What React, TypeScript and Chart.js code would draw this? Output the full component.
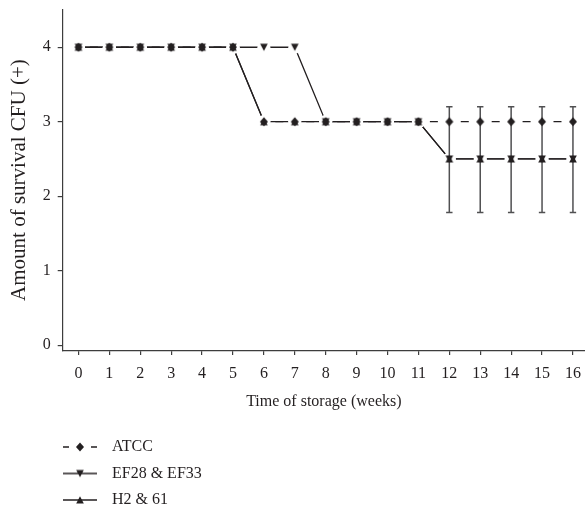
import React, { useEffect, useRef } from 'react';
import { Chart, registerables } from 'chart.js';

Chart.register(...registerables);

// ---------------- data ----------------
const weeks = [0, 1, 2, 3, 4, 5, 6, 7, 8, 9, 10, 11, 12, 13, 14, 15, 16];
const atccValues = [4, 4, 4, 4, 4, 4, 3, 3, 3, 3, 3, 3, 3, 3, 3, 3, 3];
const efValues = [4, 4, 4, 4, 4, 4, 4, 4, 3, 3, 3, 3, 2.5, 2.5, 2.5, 2.5, 2.5];
const h2Values = [4, 4, 4, 4, 4, 4, 3, 3, 3, 3, 3, 3, 2.5, 2.5, 2.5, 2.5, 2.5];
const errorWeeks = [12, 13, 14, 15, 16];
const errorHigh = [3.2, 3.2, 3.2, 3.2, 3.2];
const errorLow = [1.78, 1.78, 1.78, 1.78, 1.78];
const seriesNames = ['ATCC', 'EF28 & EF33', 'H2 & 61'];
const xTickValues = [0, 1, 2, 3, 4, 5, 6, 7, 8, 9, 10, 11, 12, 13, 14, 15, 16];
const yTickValues = [0, 1, 2, 3, 4];
const xTitle = 'Time of storage (weeks)';
const yTitle = 'Amount of survival CFU (+)';

// ---------------- style ----------------
const INK = '#231f20';
const AXIS = '#3d3d3d';
const ERR = '#505052';
const FONT = "'Liberation Serif', 'DejaVu Serif', serif";
const LEGEND_LEFT = 52.5;
const LEGEND_TOP = 428.5;

type Painter = (g: CanvasRenderingContext2D) => void;

function makeCanvas(w: number, h: number, paint: Painter): HTMLCanvasElement {
  const c = document.createElement('canvas');
  c.width = w;
  c.height = h;
  const g = c.getContext('2d')!;
  g.fillStyle = INK;
  g.strokeStyle = INK;
  paint(g);
  return c;
}

function diamond(g: CanvasRenderingContext2D, cx: number, cy: number) {
  g.beginPath();
  g.moveTo(cx, cy - 4.5);
  g.lineTo(cx + 4, cy);
  g.lineTo(cx, cy + 4.5);
  g.lineTo(cx - 4, cy);
  g.closePath();
  g.fill();
}
function triDown(g: CanvasRenderingContext2D, cx: number, cy: number) {
  g.beginPath();
  g.moveTo(cx - 3.8, cy - 3.6);
  g.lineTo(cx + 3.8, cy - 3.6);
  g.lineTo(cx, cy + 3.8);
  g.closePath();
  g.fill();
}
function triUp(g: CanvasRenderingContext2D, cx: number, cy: number) {
  g.beginPath();
  g.moveTo(cx, cy - 3.8);
  g.lineTo(cx + 3.8, cy + 3.6);
  g.lineTo(cx - 3.8, cy + 3.6);
  g.closePath();
  g.fill();
}

const errorBarPlugin = {
  id: 'errorBars',
  afterDatasetDraw(chart: any, args: any) {
    if (args.index !== 3) return;
    const { ctx } = chart;
    const x = chart.scales.x;
    const y = chart.scales.y;
    ctx.save();
    ctx.strokeStyle = ERR;
    ctx.lineWidth = 1.5;
    errorWeeks.forEach((w, i) => {
      const px = x.getPixelForValue(w);
      const top = y.getPixelForValue(errorHigh[i]);
      const bot = y.getPixelForValue(errorLow[i]);
      ctx.beginPath();
      ctx.moveTo(px, top);
      ctx.lineTo(px, bot);
      ctx.moveTo(px - 3.2, top);
      ctx.lineTo(px + 3.2, top);
      ctx.moveTo(px - 3.2, bot);
      ctx.lineTo(px + 3.2, bot);
      ctx.stroke();
    });
    ctx.restore();
  },
};

const legendPlacer = {
  id: 'legendPlacer',
  beforeDraw(chart: any) {
    const lg = chart.legend;
    if (!lg) return;
    lg.left = LEGEND_LEFT;
    lg.right = LEGEND_LEFT + 200;
    lg.width = 200;
    lg.top = LEGEND_TOP;
    lg.bottom = chart.height;
    lg.height = chart.height - LEGEND_TOP;
  },
};

export default function App() {
  const ref = useRef<HTMLCanvasElement | null>(null);

  useEffect(() => {
    document.body.style.margin = '0';
    const canvas = ref.current;
    if (!canvas) return;

    const markerAtcc = makeCanvas(12, 12, (g) => diamond(g, 6, 6));
    const markerEf = makeCanvas(12, 12, (g) => triDown(g, 6, 6));
    const markerH2 = makeCanvas(12, 12, (g) => triUp(g, 6, 6));

    const legendAtcc = makeCanvas(41, 12, (g) => {
      g.lineWidth = 1.3;
      g.beginPath();
      g.moveTo(0, 6);
      g.lineTo(6, 6);
      g.moveTo(28, 6);
      g.lineTo(34, 6);
      g.stroke();
      diamond(g, 17, 6);
    });
    const legendEf = makeCanvas(41, 12, (g) => {
      g.lineWidth = 1.3;
      g.beginPath();
      g.moveTo(0, 6);
      g.lineTo(34, 6);
      g.stroke();
      triDown(g, 17, 6);
    });
    const legendH2 = makeCanvas(41, 12, (g) => {
      g.lineWidth = 1.3;
      g.beginPath();
      g.moveTo(0, 6);
      g.lineTo(34, 6);
      g.stroke();
      triUp(g, 17, 6);
    });
    const legendImages = [legendAtcc, legendEf, legendH2];

    const pts = (vals: number[]) => weeks.map((w, i) => ({ x: w, y: vals[i] }));
    const allPoints = [...pts(atccValues), ...pts(efValues), ...pts(h2Values)];

    const flat = (c: any) => Math.abs(c.p0.y - c.p1.y) < 0.5;
    const dashLen = 8;

    const lineBase = {
      borderColor: INK,
      borderWidth: 1.3,
      pointRadius: 0,
      pointHoverRadius: 0,
      tension: 0,
      fill: false,
      order: 3,
    };

    const chart = new Chart(canvas, {
      type: 'line',
      data: {
        datasets: [
          {
            ...lineBase,
            label: seriesNames[0],
            data: pts(atccValues),
            segment: {
              borderDash: (c: any) =>
                flat(c) ? [dashLen, c.p1.x - c.p0.x - dashLen] : [],
              borderDashOffset: (c: any) =>
                flat(c) ? (c.p1.x - c.p0.x + dashLen) / 2 : 0,
            },
          } as any,
          { ...lineBase, label: seriesNames[1], data: pts(efValues) },
          { ...lineBase, label: seriesNames[2], data: pts(h2Values) },
          {
            label: 'mask',
            data: allPoints,
            showLine: false,
            pointRadius: 6.5,
            pointHoverRadius: 6.5,
            pointBackgroundColor: '#ffffff',
            pointBorderWidth: 0,
            order: 2,
          },
          {
            label: seriesNames[0] + ' markers',
            data: pts(atccValues),
            showLine: false,
            pointStyle: markerAtcc,
            pointRadius: 5,
            pointHoverRadius: 5,
            order: 1,
          } as any,
          {
            label: seriesNames[1] + ' markers',
            data: pts(efValues),
            showLine: false,
            pointStyle: markerEf,
            pointRadius: 5,
            pointHoverRadius: 5,
            order: 1,
          } as any,
          {
            label: seriesNames[2] + ' markers',
            data: pts(h2Values),
            showLine: false,
            pointStyle: markerH2,
            pointRadius: 5,
            pointHoverRadius: 5,
            order: 1,
          } as any,
        ],
      },
      options: {
        responsive: false,
        animation: false,
        events: [],
        layout: {
          autoPadding: false,
          padding: { top: 10, left: 0, right: 0, bottom: 62 },
        },
        scales: {
          x: {
            type: 'linear',
            min: -0.51,
            max: 16.39,
            afterBuildTicks: (s: any) => {
              s.ticks = xTickValues.map((v) => ({ value: v }));
            },
            afterFit: (s: any) => {
              s.paddingLeft = 0;
              s.paddingRight = 0;
            },
            ticks: {
              font: { family: FONT, size: 16 },
              color: INK,
              padding: 9,
              maxRotation: 0,
              autoSkip: false,
              callback: (v: any) => String(v),
            },
            grid: {
              drawOnChartArea: false,
              drawTicks: true,
              tickLength: 5,
              color: AXIS,
              lineWidth: 1.2,
            },
            border: { display: true, color: AXIS, width: 1.2 },
            title: {
              display: true,
              text: xTitle,
              font: { family: FONT, size: 16 },
              color: INK,
              padding: { top: 0, bottom: 4 },
            },
          },
          y: {
            type: 'linear',
            min: -0.067,
            max: 4.5,
            afterBuildTicks: (s: any) => {
              s.ticks = yTickValues.map((v) => ({ value: v }));
            },
            afterFit: (s: any) => {
              s.paddingTop = 0;
              s.paddingBottom = 0;
            },
            ticks: {
              font: { family: FONT, size: 16 },
              color: INK,
              padding: 7,
              callback: (v: any) => String(v),
            },
            grid: {
              drawOnChartArea: false,
              drawTicks: true,
              tickLength: 5,
              color: AXIS,
              lineWidth: 1.2,
            },
            border: { display: true, color: AXIS, width: 1.2 },
            title: {
              display: true,
              text: yTitle,
              font: { family: FONT, size: 21 },
              color: INK,
              padding: { top: 7, bottom: 3.5 },
            },
          },
        },
        plugins: {
          tooltip: { enabled: false },
          legend: {
            display: true,
            position: 'bottom',
            align: 'start',
            labels: {
              usePointStyle: true,
              pointStyleWidth: 41,
              padding: 10.5,
              color: INK,
              font: { family: FONT, size: 16 },
              generateLabels: () =>
                seriesNames.map((t, i) => ({
                  text: t,
                  pointStyle: legendImages[i],
                  fillStyle: 'rgba(0,0,0,0)',
                  strokeStyle: 'rgba(0,0,0,0)',
                  lineWidth: 0,
                  hidden: false,
                  datasetIndex: 4 + i,
                  fontColor: INK,
                })) as any,
            },
          },
        },
      } as any,
      plugins: [errorBarPlugin, legendPlacer],
    });

    return () => chart.destroy();
  }, []);

  return (
    <div style={{ width: 585, height: 514, background: '#fff' }}>
      <canvas ref={ref} width={585} height={514} style={{ display: 'block' }} />
    </div>
  );
}
